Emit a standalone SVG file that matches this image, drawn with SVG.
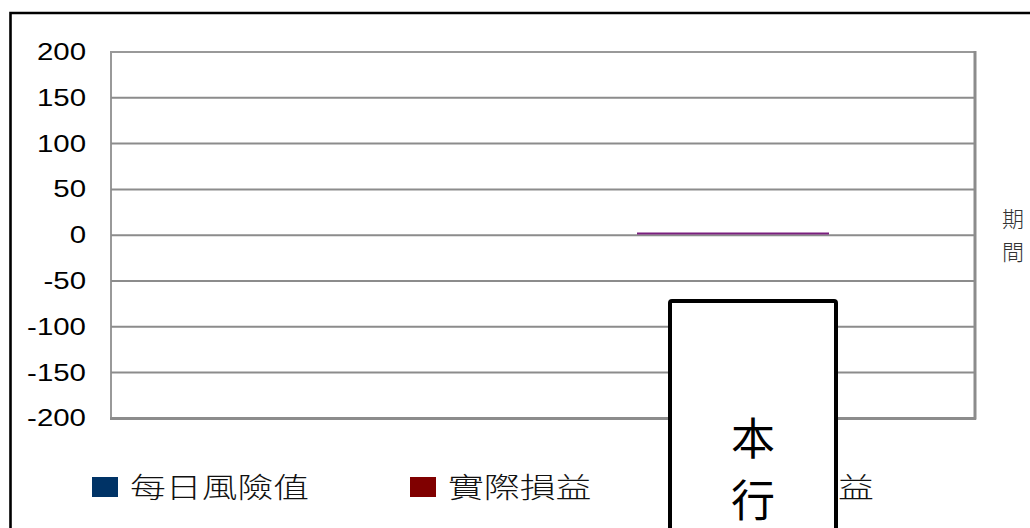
<svg xmlns="http://www.w3.org/2000/svg" width="1030" height="528" viewBox="0 0 1030 528">
<style>
.ax{font-family:"Liberation Sans",Arial,sans-serif;font-size:23px;fill:#000;text-anchor:end}
.grid{stroke:#8c8c8c;stroke-width:2;fill:none}
.lg{font-family:"Noto Sans CJK TC","Noto Sans CJK SC",sans-serif;font-size:28px;font-weight:300;fill:#111}
.side{font-family:"Noto Sans CJK TC",sans-serif;font-size:22px;font-weight:300;fill:#333}
</style>
<rect x="0" y="0" width="1030" height="528" fill="#fff"/>
<g id="frame">
<path d="M10.5 540 V13 H1040" fill="none" stroke="#000" stroke-width="2.6"/>
</g>
<g id="plot">
<rect x="111" y="52" width="864" height="366.4" fill="#fff" stroke="#999" stroke-width="2"/>
<path class="grid" d="M111 97.8H975M111 143.6H975M111 189.4H975M111 235.2H975M111 281H975M111 326.8H975M111 372.6H975"/>
<path d="M975 51V419.5M110 418.4H976" stroke="#8c8c8c" stroke-width="3" fill="none"/>
</g>
<g id="yaxis">
<g transform="translate(86 0) scale(1.28 1)">
<text class="ax" x="0" y="60">200</text>
<text class="ax" x="0" y="105.8">150</text>
<text class="ax" x="0" y="151.6">100</text>
<text class="ax" x="0" y="197.4">50</text>
<text class="ax" x="0" y="243.2">0</text>
<text class="ax" x="0" y="289">-50</text>
<text class="ax" x="0" y="334.8">-100</text>
<text class="ax" x="0" y="380.6">-150</text>
<text class="ax" x="0" y="426.4">-200</text>
</g>
</g>
<g id="series">
<line x1="637" y1="233.5" x2="829" y2="233.5" stroke="#7a1f7e" stroke-width="2.2"/>
</g>
<g id="legend">
<rect x="92" y="477" width="26" height="20" fill="#003366"/>
<text class="lg" transform="translate(130 498) scale(1.28 1)">每日風險值</text>
<rect x="410" y="477" width="26" height="20" fill="#800000"/>
<text class="lg" transform="translate(448 498) scale(1.28 1)">實際損益</text>
<text class="lg" transform="translate(838 498) scale(1.28 1)">益</text>
</g>
<g id="side-label">
<text class="side" x="1002" y="227">期</text>
<text class="side" x="1002" y="260">間</text>
</g>
<g id="box">
<rect x="670" y="301" width="166" height="260" rx="2" fill="#fff" stroke="#000" stroke-width="4"/>
<text x="753" y="455" text-anchor="middle" font-family="Noto Sans CJK TC,sans-serif" font-size="44" fill="#000">本</text>
<text x="753" y="517" text-anchor="middle" font-family="Noto Sans CJK TC,sans-serif" font-size="44" fill="#000">行</text>
</g>
</svg>
